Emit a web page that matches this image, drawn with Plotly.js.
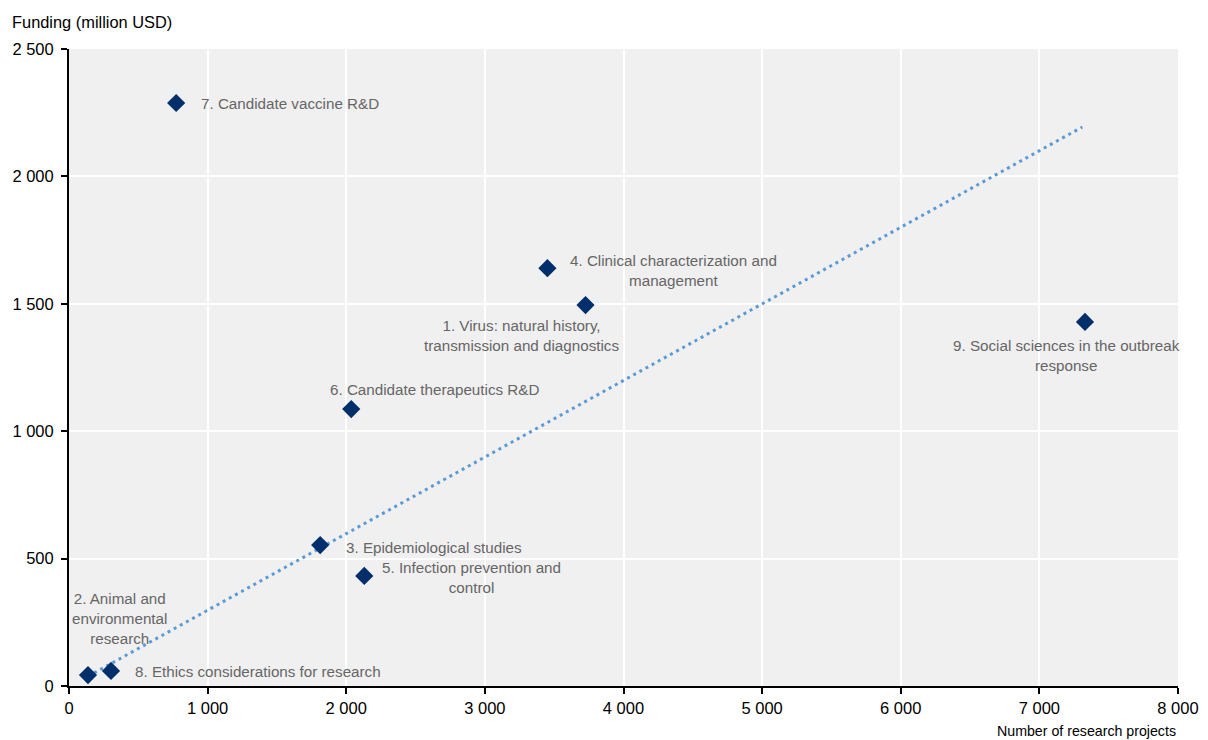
<!DOCTYPE html>
<html>
<head>
<meta charset="utf-8">
<script src="https://cdn.plot.ly/plotly-3.0.1.min.js"></script>
<style>html,body{margin:0;padding:0;background:#fff;}#chart{width:1208px;height:740px;}</style>
</head>
<body>
<div id="chart"></div>
<script>
const labels = [
  "7. Candidate vaccine R&D",
  "4. Clinical characterization and<br>management",
  "1. Virus: natural history,<br>transmission and diagnostics",
  "9. Social sciences in the outbreak<br>response",
  "6. Candidate therapeutics R&D",
  "3. Epidemiological studies",
  "5. Infection prevention and<br>control",
  "2. Animal and<br>environmental<br>research",
  "8. Ethics considerations for research"
];
const projects = [773, 3451, 3726, 7329, 2036, 1812, 2130, 137, 303];
const funding = [2288, 1640, 1495, 1429, 1087, 553, 432, 43, 59];
const trendX = [137, 7310];
const trendY = [38, 2194];
const xTicks = [0, 1000, 2000, 3000, 4000, 5000, 6000, 7000, 8000];
const yTicks = [0, 500, 1000, 1500, 2000, 2500];

const FONT = "'Liberation Sans', Arial, sans-serif";

// label placement (pixel offsets from point), style only
const labelPos = [
  {anchor: 'left', dx: 23, dy: 0},
  {anchor: 'center', dx: 126, dy: -2},
  {anchor: 'center', dx: -64, dy: -30},
  {anchor: 'center', dx: -18, dy: -34},
  {anchor: 'center', dx: 83, dy: 20},
  {anchor: 'left', dx: 24, dy: -2},
  {anchor: 'center', dx: 107, dy: -2},
  {anchor: 'center', dx: 32, dy: 57},
  {anchor: 'left', dx: 22, dy: -1}
];

const annotations = labels.map((t, i) => ({
  x: projects[i], y: funding[i], xref: 'x', yref: 'y',
  text: t, showarrow: false,
  xanchor: labelPos[i].anchor, yanchor: 'middle', align: 'center',
  xshift: labelPos[i].dx, yshift: labelPos[i].dy,
  font: {family: FONT, size: 15.2, color: '#666666'}
}));

annotations.push({
  xref: 'paper', yref: 'paper', x: 0, y: 1, xshift: -59, yshift: 27,
  xanchor: 'left', yanchor: 'middle', showarrow: false,
  text: 'Funding (million USD)', font: {family: FONT, size: 16.4, color: '#000'}
});
annotations.push({
  xref: 'paper', yref: 'paper', x: 1, y: 0, yshift: -45,
  xanchor: 'right', yanchor: 'middle', showarrow: false,
  text: 'Number of research projects', font: {family: FONT, size: 14.2, color: '#000'}
});

const data = [
  {
    x: trendX, y: trendY, type: 'scatter', mode: 'lines',
    line: {color: '#5b9bd5', width: 3, dash: '3px,4px'},
    hoverinfo: 'skip', showlegend: false
  },
  {
    x: projects, y: funding, type: 'scatter', mode: 'markers',
    marker: {symbol: 'diamond', size: 14, color: '#002f6c'},
    text: labels, showlegend: false
  }
];

const layout = {
  width: 1208, height: 740,
  margin: {l: 69, r: 30, t: 49, b: 54},
  paper_bgcolor: '#ffffff', plot_bgcolor: '#f0f0f0',
  separators: '. ',
  font: {family: FONT, size: 16, color: '#000'},
  xaxis: {
    range: [0, 8000], tickvals: xTicks, tickformat: ',d',
    showgrid: true, gridcolor: '#ffffff', gridwidth: 2,
    zeroline: false, showline: true, linecolor: '#000', linewidth: 2,
    ticks: 'outside', ticklen: 6, tickcolor: '#000', tickwidth: 2,
    tickfont: {family: FONT, size: 16.5, color: '#000'}
  },
  yaxis: {
    range: [0, 2500], tickvals: yTicks, tickformat: ',d',
    showgrid: true, gridcolor: '#ffffff', gridwidth: 2,
    zeroline: false, showline: true, linecolor: '#000', linewidth: 2,
    ticks: 'outside', ticklen: 6, tickcolor: '#000', tickwidth: 2,
    ticklabelstandoff: 4,
    tickfont: {family: FONT, size: 16.5, color: '#000'}
  },
  annotations: annotations
};

Plotly.newPlot('chart', data, layout, {displayModeBar: false, staticPlot: true});
</script>
</body>
</html>
